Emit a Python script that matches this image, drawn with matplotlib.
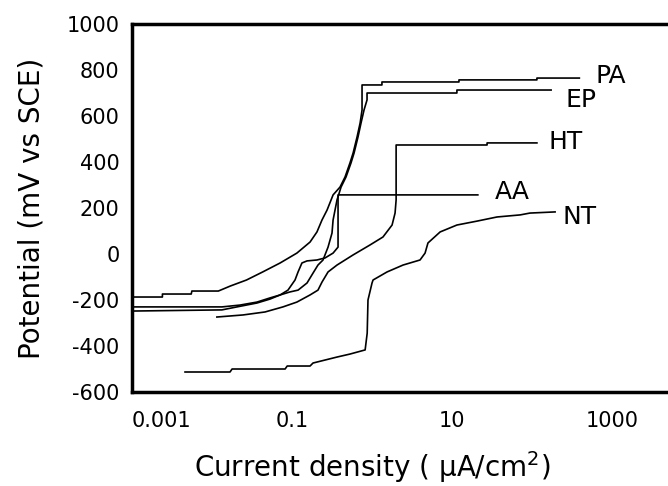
import matplotlib
matplotlib.use('Agg')
import matplotlib.pyplot as plt

plt.rcParams['axes.unicode_minus'] = False

# polarization curves: current density (uA/cm2), potential (mV vs SCE)
pa_i = [0.001, 0.0024, 0.0024, 0.0055, 0.0056, 0.012, 0.017, 0.027, 0.043, 0.071, 0.115,
        0.168, 0.205, 0.237, 0.274, 0.326, 0.398, 0.46, 0.53, 0.58, 0.65, 0.71, 0.75, 0.75,
        1.33, 1.33, 12.2, 12.2, 115, 115, 390]
pa_e = [-187, -187, -174, -174, -161, -161, -139, -113, -78, -39, 4,
        52, 96, 148, 191, 257, 291, 335, 396, 439, 509, 570, 626, 735,
        735, 748, 748, 757, 757, 765, 765]

ep_i = [0.001, 0.0133, 0.0205, 0.0365, 0.053, 0.071, 0.094, 0.119, 0.154, 0.183, 0.211,
        0.244, 0.282, 0.316, 0.326, 0.365, 0.41, 0.473, 0.546, 0.596, 0.668, 0.729, 0.794,
        0.866, 0.866, 11.5, 11.5, 173]
ep_e = [-248, -243, -230, -213, -196, -178, -165, -157, -126, -83, -48,
        -26, 30, 91, 148, 235, 291, 335, 396, 439, 509, 570, 626,
        670, 700, 700, 713, 713]

aa_i = [0.001, 0.0133, 0.0224, 0.0365, 0.053, 0.071, 0.089, 0.109, 0.119, 0.133, 0.154,
        0.205, 0.259, 0.326, 0.376, 0.376, 21]
aa_e = [-230, -230, -222, -209, -191, -178, -157, -113, -78, -39, -30,
        -26, -17, 4, 30, 257, 257]

ht_i = [0.0115, 0.0244, 0.046, 0.077, 0.115, 0.168, 0.211, 0.237, 0.282, 0.365, 0.58,
        0.94, 1.37, 1.78, 1.94, 2.0, 2.0, 27.4, 27.4, 115]
ht_e = [-274, -265, -252, -230, -209, -178, -157, -122, -78, -48, -4,
        39, 74, 126, 178, 235, 474, 474, 483, 483]

nt_i = [0.0046, 0.0168, 0.0178, 0.082, 0.087, 0.168, 0.183, 0.365, 0.53, 0.82, 0.87,
        0.89, 1.0, 1.03, 1.54, 2.44, 3.98, 4.6, 5.0, 7.1, 11.5, 20.5, 36.5, 71, 94, 194]
nt_e = [-513, -513, -500, -500, -487, -487, -474, -448, -435, -417, -344,
        -200, -126, -113, -78, -48, -26, 4, 48, 96, 126, 143, 161, 170, 178, 183]

curve_names = ['PA', 'EP', 'HT', 'AA', 'NT']
label_i = [970, 410, 266, 56, 387]
label_e = [774, 670, 487, 270, 161]

xtick_vals = [0.001, 0.1, 10, 1000]
xtick_text = ['0.001', '0.1', '10', '1000']
ytick_vals = [-600, -400, -200, 0, 200, 400, 600, 800, 1000]

fig = plt.figure(figsize=(6.68, 4.86), dpi=100)
ax = fig.add_axes([0.1976, 0.1934, 0.8024, 0.7572])

for xs, ys in [(pa_i, pa_e), (ep_i, ep_e), (aa_i, aa_e), (ht_i, ht_e), (nt_i, nt_e)]:
    ax.plot(xs, ys, color='black', lw=1.2)

for name, xi, yi in zip(curve_names, label_i, label_e):
    ax.text(xi, yi, name, fontsize=18, ha='center', va='center')

ax.set_xscale('log')
ax.set_xlim(0.001, 5000)
ax.set_ylim(-600, 1000)
ax.set_xticks(xtick_vals)
ax.set_xticklabels(xtick_text)
ax.minorticks_off()
ax.set_yticks(ytick_vals)
ax.tick_params(axis='x', length=0, pad=14, labelsize=15)
ax.tick_params(axis='y', length=0, pad=9, labelsize=15)
ax.get_xticklabels()[0].set_horizontalalignment('left')

for side in ['left', 'top', 'bottom']:
    ax.spines[side].set_linewidth(2.5)
ax.spines['right'].set_visible(False)

fig.text(0.557, 0.0185, 'Current density ( µA/cm$^2$)', fontsize=20,
         ha='center', va='baseline')
fig.text(0.047, 0.572, 'Potential (mV vs SCE)', fontsize=20, rotation=90,
         ha='center', va='center')

fig.savefig('out.png', dpi=100)
